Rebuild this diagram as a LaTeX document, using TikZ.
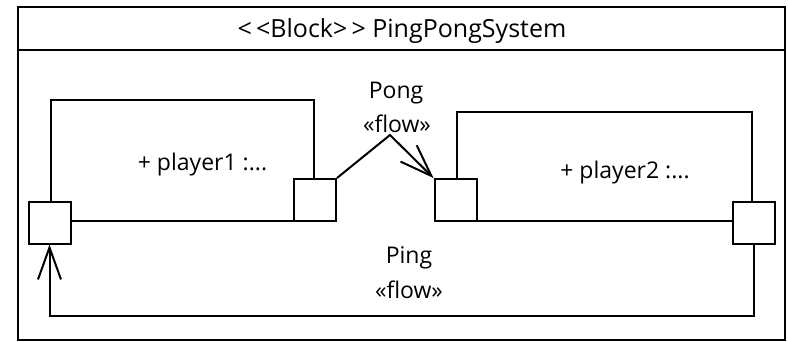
\documentclass[tikz,border=0pt]{standalone}
\usepackage{fontspec}
\setmainfont{Open Sans}
\usetikzlibrary{arrows.meta}
\begin{document}
\begin{tikzpicture}[x=1pt,y=-1pt,line width=2pt,
  every node/.style={font=\fontsize{23}{27}\selectfont},
  part/.style={draw,rectangle,inner sep=0pt},
  port/.style={draw,fill=white,rectangle,inner sep=0pt,minimum width=42pt,minimum height=42pt},
  label/.style={inner sep=0pt,align=center},
  flowtip/.style={-{Straight Barb[length=32pt,width=23pt,line width=2pt]}}]
\useasboundingbox (0,0) rectangle (788,341);
% frame with its header compartment
\draw (18,7) rectangle (785,340);
\draw (18,50) -- (785,50);
\node[label,font=\fontsize{25}{29}\selectfont] (title) at (402,31)
  {{<}\,{<}Block{>}\,{>} PingPongSystem};
% parts
\node[part,minimum width=263pt,minimum height=121pt] (b1) at (182.5,160.5) {};
\node[part,minimum width=295pt,minimum height=109pt] (b2) at (604.5,166.5) {};
\node[label] (t1) at (202.5,165) {+ player1 :...};
\node[label] (t2) at (625,173) {+ player2 :...};
% ports
\node[port] (p1l) at (49.5,222.5) {};
\node[port] (p1r) at (315,200) {};
\node[port] (p2l) at (455.5,200) {};
\node[port] (p2r) at (754,222.5) {};
% Pong flow
\coordinate (apex) at (390,135);
\draw[flowtip] (p1r.north east) -- (apex) -- (p2l.north west);
\node[label] (pong) at (396,93) {Pong};
\node[label] (pongst) at (397,124) {«flow»};
% Ping flow
\coordinate (bend) at (754,316);
\draw[flowtip] (p2r.south) -- (bend) -| (p1l.south);
\node[label] (ping) at (409,258) {Ping};
\node[label] (pingst) at (409,290) {«flow»};
\end{tikzpicture}
\end{document}
